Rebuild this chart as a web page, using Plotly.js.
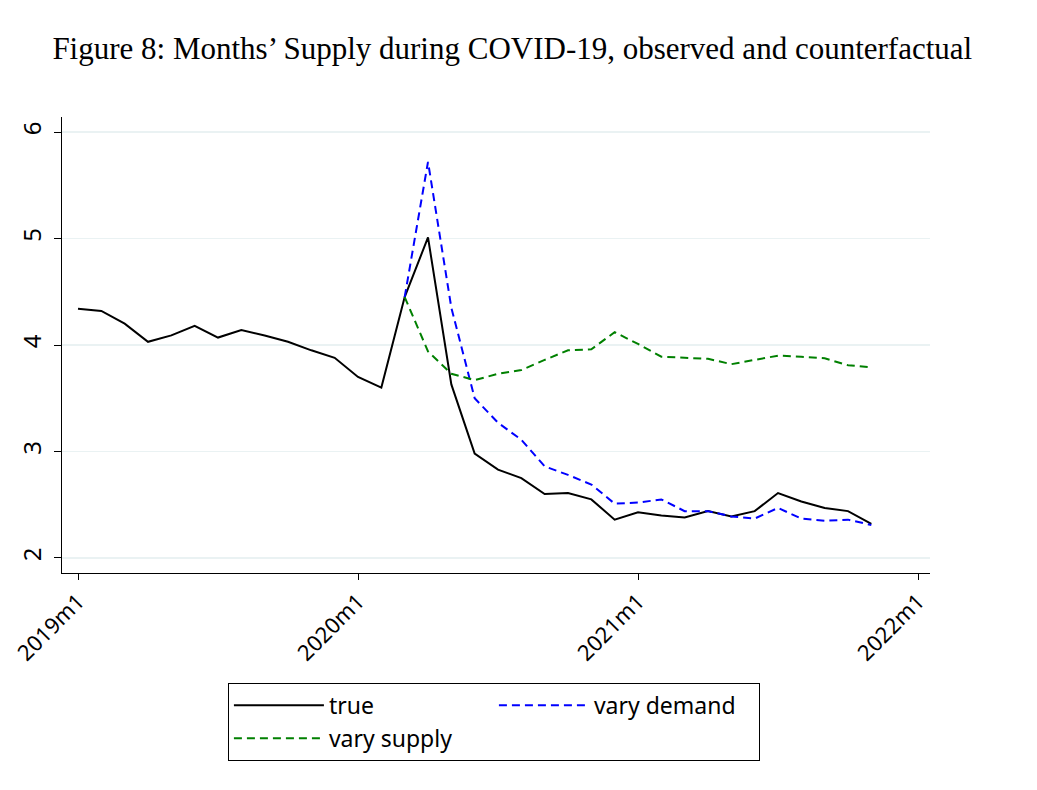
<!DOCTYPE html>
<html>
<head>
<meta charset="utf-8">
<script src="https://cdn.plot.ly/plotly-3.0.1.min.js"></script>
<style>html,body{margin:0;padding:0;background:#fff;}#chart{width:1037px;height:790px;}</style>
</head>
<body>
<div id="chart"></div>
<script>
// Month labels (2019m1 .. 2021m11)
const months = ["2019m1","2019m2","2019m3","2019m4","2019m5","2019m6","2019m7","2019m8","2019m9","2019m10","2019m11","2019m12",
  "2020m1","2020m2","2020m3","2020m4","2020m5","2020m6","2020m7","2020m8","2020m9","2020m10","2020m11","2020m12",
  "2021m1","2021m2","2021m3","2021m4","2021m5","2021m6","2021m7","2021m8","2021m9","2021m10","2021m11"];

const trueVals = [4.34,4.32,4.20,4.03,4.09,4.18,4.07,4.14,4.09,4.03,3.95,3.88,
  3.70,3.60,4.45,5.01,3.63,2.98,2.83,2.75,2.60,2.61,2.55,2.36,
  2.43,2.40,2.38,2.44,2.39,2.44,2.61,2.53,2.47,2.44,2.32];

// counterfactuals start at 2020m3
const cfMonths = months.slice(14);
const demandVals = [4.45,5.72,4.35,3.50,3.27,3.11,2.86,2.78,2.69,2.51,
  2.52,2.55,2.44,2.44,2.39,2.37,2.47,2.37,2.35,2.36,2.31];
const supplyVals = [4.45,3.94,3.73,3.67,3.73,3.765,3.86,3.95,3.96,4.12,
  4.01,3.89,3.88,3.87,3.82,3.86,3.90,3.89,3.875,3.81,3.79];

const tickLabels = ["2019m1","2020m1","2021m1","2022m1"];

function monthIndex(lbl){
  const p = lbl.split("m");
  return (parseInt(p[0]) - 2019) * 12 + (parseInt(p[1]) - 1);
}

const xTrue = months.map(monthIndex);
const xCf = cfMonths.map(monthIndex);
const tickVals = tickLabels.map(monthIndex);

const FONT = "'Noto Sans', 'Open Sans', sans-serif";

const traces = [
  {x: xTrue, y: trueVals, type: "scatter", mode: "lines", name: "true",
   line: {color: "#000000", width: 2}},
  {x: xCf, y: demandVals, type: "scatter", mode: "lines", name: "vary demand",
   line: {color: "#0000ff", width: 2, dash: "8px,5px"}},
  {x: xCf, y: supplyVals, type: "scatter", mode: "lines", name: "vary supply",
   line: {color: "#008000", width: 2, dash: "8px,5px"}}
];

const layout = {
  width: 1037, height: 790,
  paper_bgcolor: "#ffffff", plot_bgcolor: "#ffffff",
  margin: {l: 62, r: 107, t: 117, b: 217},
  font: {family: FONT, color: "#000"},
  title: {
    text: "Figure 8: Months’ Supply during COVID-19, observed and counterfactual",
    font: {family: "'Liberation Serif', 'DejaVu Serif', serif", size: 31, color: "#000"},
    x: 0.494, xref: "container", xanchor: "center", y: 0.939, yref: "container", yanchor: "middle"
  },
  xaxis: {
    range: [-0.686, 36.514],
    tickmode: "array", tickvals: tickVals, ticktext: tickLabels,
    tickangle: -45, ticks: "outside", ticklen: 6, tickcolor: "#000", tickwidth: 1,
    showline: true, linecolor: "#000", linewidth: 1,
    showgrid: false, zeroline: false,
    tickfont: {size: 22, family: FONT}
  },
  yaxis: {
    range: [1.859, 6.141],
    tickmode: "array", tickvals: [2,3,4,5,6], ticktext: ["2","3","4","5","6"],
    tickangle: -90, ticks: "outside", ticklen: 7, tickcolor: "#000", tickwidth: 1,
    ticklabelstandoff: 3,
    showline: true, linecolor: "#000", linewidth: 1,
    showgrid: true, gridcolor: "#eaf2f3", gridwidth: 1.2, zeroline: false,
    tickfont: {size: 24, family: FONT}
  },
  showlegend: true,
  legend: {
    orientation: "h", x: 0.2166, xanchor: "left", y: -0.241, yanchor: "top",
    bordercolor: "#000", borderwidth: 1, bgcolor: "#fff",
    font: {size: 23, family: FONT},
    itemwidth: 90, entrywidth: 160, tracegroupgap: 0, traceorder: "normal"
  }
};

Plotly.newPlot("chart", traces, layout, {displayModeBar: false, staticPlot: true});
</script>
</body>
</html>
